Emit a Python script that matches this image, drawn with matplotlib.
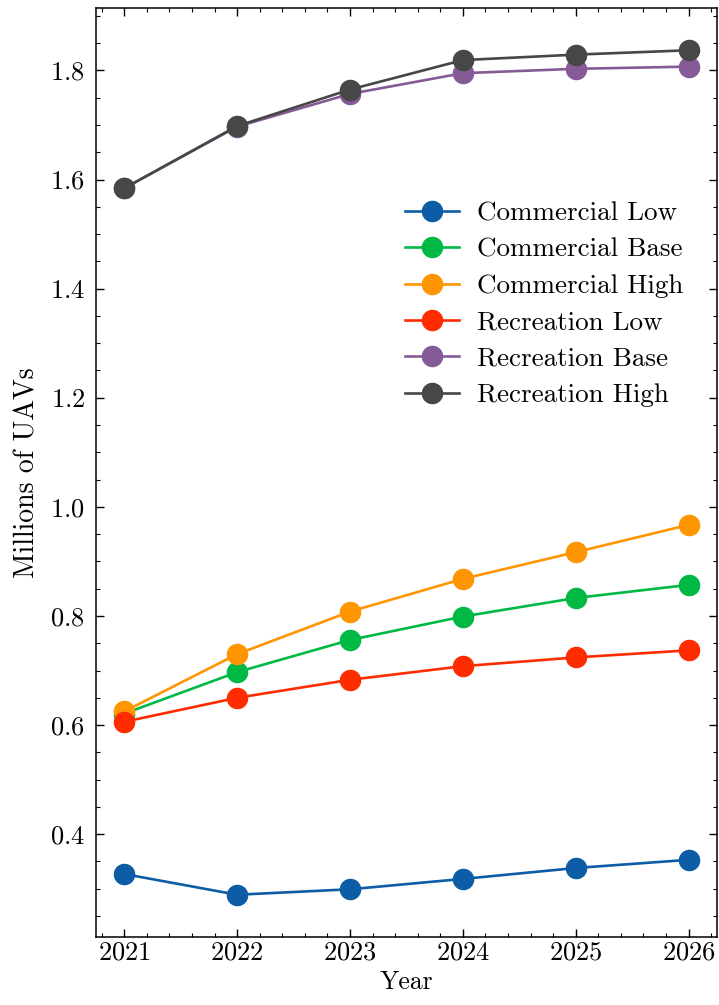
import numpy as np
import matplotlib
matplotlib.use('Agg')
import matplotlib.pyplot as plt
from matplotlib.ticker import MultipleLocator

# science-like style by hand (no SciencePlots in the sandbox)
plt.rcParams['font.family'] = 'serif'
plt.rcParams['font.serif'] = ['cmr10', 'DejaVu Serif']
plt.rcParams['mathtext.fontset'] = 'cm'
plt.rcParams['axes.formatter.use_mathtext'] = True
plt.rcParams['axes.unicode_minus'] = False

years = [2021, 2022, 2023, 2024, 2025, 2026]

commercial_low = [0.327, 0.289, 0.299, 0.318, 0.338, 0.353]
commercial_base = [0.621, 0.697, 0.756, 0.799, 0.833, 0.857]
commercial_high = [0.625, 0.730, 0.808, 0.868, 0.917, 0.967]
recreation_low = [0.606, 0.650, 0.683, 0.708, 0.724, 0.737]
recreation_base = [1.584, 1.697, 1.757, 1.795, 1.803, 1.807]
recreation_high = [1.584, 1.698, 1.765, 1.819, 1.829, 1.837]

labels = ['Commercial Low', 'Commercial Base', 'Commercial High',
          'Recreation Low', 'Recreation Base', 'Recreation High']
series = [commercial_low, commercial_base, commercial_high,
          recreation_low, recreation_base, recreation_high]
colors = ['#0C5DA5', '#00B945', '#FF9500', '#FF2C00', '#845B97', '#474747']

fig = plt.figure(figsize=(7.19, 10.05), dpi=100)
ax = fig.add_axes([0.1335, 0.0677, 0.8635, 0.9243])

for vals, lab, c in zip(series, labels, colors):
    ax.plot(years, vals, marker='o', color=c, label=lab, lw=1.9, markersize=14.5)

ax.set_xticks(years)
ax.xaxis.set_minor_locator(MultipleLocator(0.2))
ax.yaxis.set_major_locator(MultipleLocator(0.2))
ax.yaxis.set_minor_locator(MultipleLocator(0.05))
ax.tick_params(which='both', direction='in', top=True, right=True, labelsize=19)
ax.tick_params(which='major', length=6, width=1.0)
ax.tick_params(which='minor', length=3, width=0.8)
ax.tick_params(axis='x', which='major', pad=3)
ax.tick_params(axis='y', which='major', pad=8)
for s in ax.spines.values():
    s.set_linewidth(1.1)

ax.set_xlabel('Year', fontsize=18.5, labelpad=4)
ax.set_ylabel('Millions of UAVs', fontsize=20, labelpad=7)

ax.legend(loc='upper left', bbox_to_anchor=(0.498, 0.792), frameon=False,
          fontsize=19.5, borderpad=0, borderaxespad=0, handlelength=2.0,
          handletextpad=0.65, labelspacing=0.46)

plt.savefig('out.png', dpi=100)
